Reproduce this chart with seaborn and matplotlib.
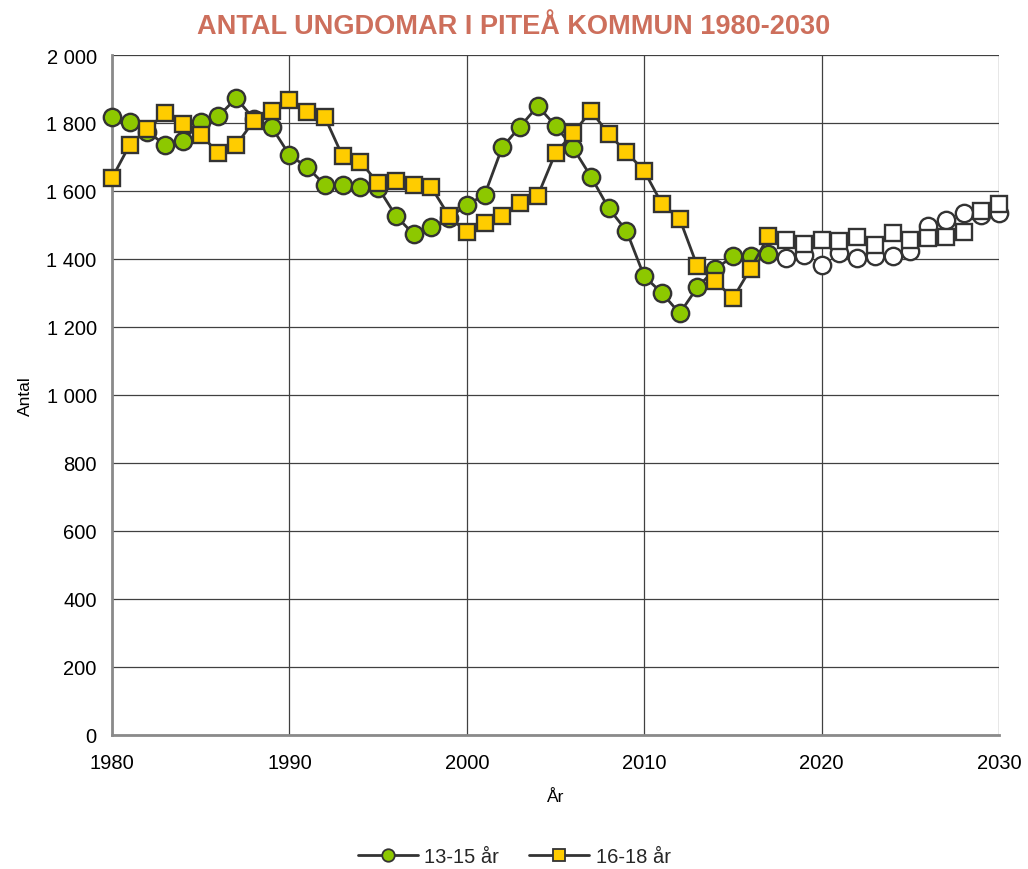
import matplotlib
matplotlib.use("Agg")
import matplotlib.pyplot as plt
import matplotlib.ticker as mticker
from matplotlib.lines import Line2D
import seaborn as sns
import pandas as pd

years_hist = list(range(1980, 2018))
years_proj = list(range(2018, 2031))

age13_15_hist = [1817, 1803, 1775, 1735, 1748, 1803, 1820, 1873, 1812, 1788,
                 1706, 1670, 1618, 1618, 1612, 1610, 1527, 1473, 1494, 1520,
                 1560, 1588, 1729, 1789, 1850, 1792, 1726, 1642, 1549, 1483,
                 1349, 1300, 1240, 1317, 1370, 1408, 1410, 1416]
age13_15_proj = [1402, 1412, 1383, 1418, 1402, 1408, 1410, 1425, 1498, 1516,
                 1535, 1530, 1535]

age16_18_hist = [1638, 1736, 1782, 1829, 1797, 1765, 1712, 1735, 1807, 1836,
                 1867, 1831, 1817, 1702, 1686, 1623, 1630, 1618, 1611, 1526,
                 1478, 1506, 1527, 1565, 1586, 1712, 1770, 1836, 1767, 1714,
                 1659, 1562, 1518, 1378, 1336, 1284, 1372, 1467]
age16_18_proj = [1457, 1444, 1456, 1454, 1464, 1441, 1476, 1457, 1461, 1464,
                 1480, 1540, 1562]

labels = ["13-15 år", "16-18 år"]
title = "ANTAL UNGDOMAR I PITEÅ KOMMUN 1980-2030"

sns.set_style("white")
plt.rcParams['font.family'] = ['Liberation Sans', 'DejaVu Sans']

fig = plt.figure(figsize=(10.28, 8.70), dpi=100)
ax = fig.add_axes([112/1028, 1-736/870, (999-112)/1028, (736-56)/870])

line_c = "#333333"
green = "#8DC800"
yellow = "#FFCC00"
ms = 12.5
mew = 1.7

df1 = pd.DataFrame({"year": years_hist, "v": age13_15_hist})
df2 = pd.DataFrame({"year": years_hist, "v": age16_18_hist})
dp1 = pd.DataFrame({"year": years_proj, "v": age13_15_proj})
dp2 = pd.DataFrame({"year": years_proj, "v": age16_18_proj})

# projections (white markers, drawn first)
sns.lineplot(data=dp1, x="year", y="v", ax=ax, linestyle="none", marker="o",
             markersize=ms, markerfacecolor="white", markeredgecolor=line_c,
             markeredgewidth=mew, zorder=3, clip_on=False)
sns.lineplot(data=dp2, x="year", y="v", ax=ax, linestyle="none", marker="s",
             markersize=ms - 0.5, markerfacecolor="white", markeredgecolor=line_c,
             markeredgewidth=mew, zorder=3, clip_on=False)

sns.lineplot(data=df1, x="year", y="v", ax=ax, color=line_c, linewidth=2,
             marker="o", markersize=ms, markerfacecolor=green,
             markeredgecolor=line_c, markeredgewidth=mew, zorder=4, clip_on=False)
sns.lineplot(data=df2, x="year", y="v", ax=ax, color=line_c, linewidth=2,
             marker="s", markersize=ms - 0.5, markerfacecolor=yellow,
             markeredgecolor=line_c, markeredgewidth=mew, zorder=5, clip_on=False)

ax.set_xlim(1980, 2030)
ax.set_ylim(0, 2000)
ax.xaxis.set_major_locator(mticker.MultipleLocator(10))
ax.yaxis.set_major_locator(mticker.MultipleLocator(200))
ax.yaxis.set_major_formatter(mticker.FuncFormatter(
    lambda v, p: f"{int(v):,}".replace(",", " ")))

ax.grid(True, color="#404040", linewidth=0.9)
ax.set_axisbelow(True)
for s in ["top", "right"]:
    ax.spines[s].set_visible(False)
for s in ["left", "bottom"]:
    ax.spines[s].set_color("#8a8a8a")
    ax.spines[s].set_linewidth(2)
ax.tick_params(axis="both", direction="out", length=5, width=1.5,
               color="#8a8a8a", labelcolor="black", labelsize=14.5, pad=6)
ax.tick_params(axis="x", pad=8)

ax.set_xlabel("År", fontsize=12.5, labelpad=12, color="black")
ax.set_ylabel("Antal", fontsize=12.5, labelpad=10, color="black")

fig.text(0.5, 1-27/870, title, ha="center", va="center", fontsize=19.5,
         fontweight="bold", color="#CD6F5C",
         family=["Liberation Sans Narrow", "Liberation Sans", "DejaVu Sans"])

handles = [
    Line2D([], [], color=line_c, linewidth=2, marker="o", markersize=9,
           markerfacecolor=green, markeredgecolor=line_c, markeredgewidth=1.3),
    Line2D([], [], color=line_c, linewidth=2, marker="s", markersize=8.5,
           markerfacecolor=yellow, markeredgecolor=line_c, markeredgewidth=1.3),
]
fig.legend(handles, labels, loc="center", bbox_to_anchor=(0.5, 1-858/870),
           ncol=2, frameon=False, fontsize=14.5, handlelength=3,
           columnspacing=1.5, handletextpad=0.3)

fig.savefig("out.png", dpi=100)
